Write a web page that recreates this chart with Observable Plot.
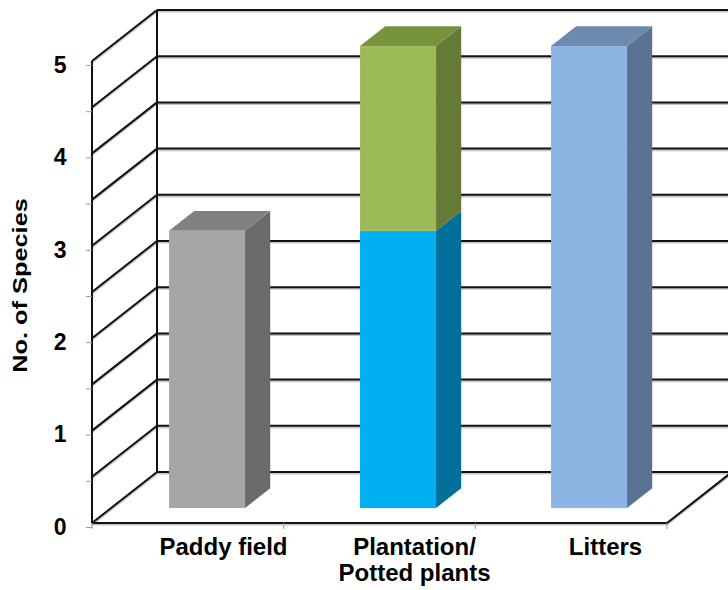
<!DOCTYPE html>
<html><head><meta charset="utf-8">
<script src="https://cdn.jsdelivr.net/npm/d3@7"></script>
<script src="https://cdn.jsdelivr.net/npm/@observablehq/plot@0.6"></script>
<style>
html,body{margin:0;padding:0;background:#fff;overflow:hidden;}
#chart{width:728px;height:590px;overflow:hidden;}
</style></head><body><div id="chart"></div>
<script>
// ---- data ----
const categories = ["Paddy field", "Plantation/\nPotted plants", "Litters"];
const segmentCategory = ["Paddy field", "Plantation/\nPotted plants", "Plantation/\nPotted plants", "Litters"];
const segmentValue = [3, 3, 2, 5];
const yTicks = [0, 0.5, 1, 1.5, 2, 2.5, 3, 3.5, 4, 4.5, 5];
const yLabel = "No. of Species";

// ---- styles ----
const frontColors = ["#a6a6a6", "#00b0f0", "#9bbb59", "#8eb4e3"];
const sideColors  = ["#6a6a6a", "#00709a", "#657a37", "#5a7393"];
const topColors   = ["#808080", "#0089bb", "#77933c", "#6c89ae"];
const DX = 65, DY = -51;        // depth vector of the floor
const Z0 = 0.293, Z1 = 0.68;    // bar front / back depth fraction

// stack segments
const segments = segmentValue.map((v, i) => ({category: segmentCategory[i], value: v, idx: i}));
const base = new Map();
for (const s of segments) {
  const b = base.get(s.category) ?? 0;
  s.y1 = b; s.y2 = b + s.value;
  base.set(s.category, s.y2);
}
for (const s of segments) s.isTop = s.y2 === base.get(s.category);

function frame3d(index, scales, values, dimensions) {
  const {x, y} = scales;
  const {marginLeft, marginRight, width} = dimensions;
  const left = marginLeft, right = width - marginRight;
  const step = (right - left) / categories.length;
  const bw = typeof x.bandwidth === "function" ? x.bandwidth() : (x.bandwidth ?? step * 0.4);
  const g = d3.create("svg:g");
  const path = (pts, attrs) => {
    const p = g.append("path").attr("d", d3.line()(pts) + (attrs.close ? "Z" : ""));
    for (const k in attrs) if (k !== "close") p.attr(k, attrs[k]);
  };
  const yMax = yTicks[yTicks.length - 1];
  const lines = [];
  for (const t of yTicks) {
    const py = y(t);
    lines.push([[left, py], [left + DX, py + DY]]);
    lines.push([[left + DX, py + DY], [right + DX + 10, py + DY]]);
  }
  lines.push([[left, y(0)], [left, y(yMax)]]);
  lines.push([[left + DX, y(0) + DY], [left + DX, y(yMax) + DY]]);
  lines.push([[left, y(0)], [right, y(0)], [right + DX, y(0) + DY]]);
  for (const l of lines) path(l.map(([a, b]) => [a, b + 1.6]), {fill: "none", stroke: "#c4c4c4", "stroke-width": 2});
  for (const l of lines) path(l, {fill: "none", stroke: "#111", "stroke-width": 2});
  // small ticks on the floor front edge at category boundaries
  for (let i = 0; i <= categories.length; i++) {
    const px = left + i * step;
    path([[px, y(0)], [px, y(0) + 6]], {fill: "none", stroke: "#999", "stroke-width": 1});
  }
  // bar sides & tops
  const P = (px, py, z) => [px + DX * z, py + DY * z];
  for (const s of segments) {
    const x0 = x(s.category), x1 = x0 + bw;
    const yb = y(s.y1), yt = y(s.y2);
    path([P(x1, yb, Z0), P(x1, yt, Z0), P(x1, yt, Z1), P(x1, yb, Z1)], {close: true, fill: sideColors[s.idx], stroke: "none"});
    if (s.isTop) path([P(x0, yt, Z0), P(x1, yt, Z0), P(x1, yt, Z1), P(x0, yt, Z1)], {close: true, fill: topColors[s.idx], stroke: "none"});
  }
  return g.node();
}

const chart = Plot.plot({
  width: 728,
  height: 590,
  marginTop: 61,
  marginBottom: 67,
  marginLeft: 92,
  marginRight: 61,
  style: {fontFamily: "'Liberation Sans', Arial, sans-serif", background: "#fff", overflow: "hidden"},
  x: {type: "band", domain: categories, paddingInner: 0.6, paddingOuter: 0.3, label: null},
  y: {domain: [0, 5], label: null},
  color: {type: "identity"},
  marks: [
    frame3d,
    Plot.barY(segments, {x: "category", y1: "y1", y2: "y2", fill: d => frontColors[d.idx], dx: DX * Z0, dy: DY * Z0, inset: 0}),
    Plot.axisY(yTicks, {tickSize: 6, tickPadding: 20, stroke: "#9a9a9a", fill: "#000", fontSize: 23, fontWeight: "bold", dy: 4,
      tickFormat: d => Number.isInteger(d) ? String(d) : "", label: null}),
    Plot.axisX({tickSize: 0, tickPadding: 12, fontSize: 24, fontWeight: "bold", fill: "#000", dx: 35, lineHeight: 1.12, label: null}),
    Plot.text([yLabel], {frameAnchor: "left", textAnchor: "middle", rotate: -90, dx: -72, dy: -7, fontSize: 19.5, fontWeight: "bold", fill: "#000"})
  ]
});
d3.select(chart).selectAll("text").filter(function() { return this.textContent === yLabel; })
  .each(function() {
    const t = this.getAttribute("transform") || "";
    this.setAttribute("transform", t + " scale(1.3,1)");
  });
document.getElementById("chart").appendChild(chart);
</script>
</body></html>
